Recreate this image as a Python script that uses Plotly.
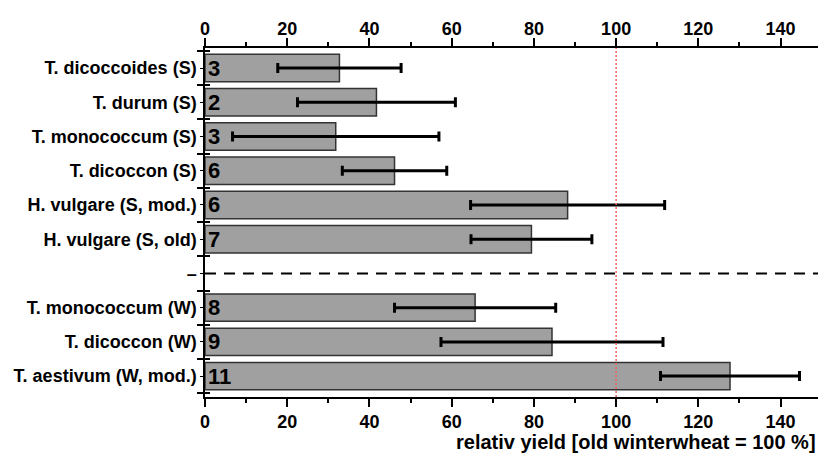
import plotly.graph_objects as go

categories = ["T. dicoccoides (S)", "T. durum (S)", "T. monococcum (S)", "T. dicoccon (S)",
              "H. vulgare (S, mod.)", "H. vulgare (S, old)", "–",
              "T. monococcum (W)", "T. dicoccon (W)", "T. aestivum (W, mod.)"]
values = [32.7, 41.7, 31.8, 46.1, 88.2, 79.4, None, 65.7, 84.4, 127.7]
errors = [15.0, 19.2, 25.1, 12.7, 23.6, 14.7, None, 19.6, 27.0, 16.9]
counts = ["3", "2", "3", "6", "6", "7", "", "8", "9", "11"]
separator_label = "–"
reference_value = 100
x_ticks = [0, 20, 40, 60, 80, 100, 120, 140]
x_title = "relativ yield [old winterwheat = 100 %]"

ypos = list(range(len(categories)))
boundaries = [p - 0.5 for p in ypos] + [ypos[-1] + 0.5]
sep_pos = ypos[categories.index(separator_label)]

FONT = "Liberation Sans, Arial, sans-serif"
XR = [0, 149.1]
YR = [9.61, -0.585]

fig = go.Figure()
fig.add_trace(go.Bar(
    x=values, y=ypos, orientation="h", width=0.8,
    marker=dict(color="#a0a0a0", line=dict(color="#333333", width=1.5)),
    error_x=dict(type="data", array=errors, color="black", thickness=3, width=5),
    text=counts, textposition="inside", insidetextanchor="start", constraintext="none",
    textangle=0,
    textfont=dict(family=FONT, size=22, color="black", weight="bold"),
    showlegend=False, hoverinfo="skip",
))
fig.add_trace(go.Scatter(x=[None], y=[None], xaxis="x2", yaxis="y2", showlegend=False))

tickfont = dict(family=FONT, size=18, color="black", weight="bold")
fig.update_layout(
    width=819, height=455,
    margin=dict(l=205, r=1, t=48, b=58, autoexpand=False),
    plot_bgcolor="white", paper_bgcolor="white",
    bargap=0.2,
    xaxis=dict(range=XR, tickmode="array", tickvals=x_ticks, ticks="outside", ticklen=8,
               tickwidth=1.5, tickcolor="black", showline=True, linecolor="black", linewidth=1.5,
               showgrid=False, zeroline=False, tickfont=tickfont, automargin=False,
               minor=dict(dtick=10, tick0=0, ticks="outside", ticklen=4, tickwidth=1.5, tickcolor="black")),
    xaxis2=dict(range=XR, overlaying="x", side="top", tickmode="array", tickvals=x_ticks,
                ticks="outside", ticklen=8, tickwidth=1.5, tickcolor="black", showline=True,
                linecolor="black", linewidth=1.5, showgrid=False, zeroline=False, tickfont=tickfont,
                automargin=False, ticklabelstandoff=-4,
                minor=dict(dtick=10, tick0=0, ticks="outside", ticklen=4, tickwidth=1.5, tickcolor="black")),
    yaxis=dict(range=YR, tickmode="array", tickvals=ypos, ticktext=categories, ticks="outside",
               ticklen=3, tickwidth=1, tickcolor="black", showline=True, linecolor="black",
               linewidth=1.5, showgrid=False, zeroline=False, tickfont=tickfont, automargin=False,
               minor=dict(tickvals=boundaries, ticks="outside", ticklen=6, tickwidth=1.5, tickcolor="black")),
    yaxis2=dict(range=YR, overlaying="y", side="left", tickmode="array", tickvals=boundaries,
                showticklabels=False, ticks="inside", ticklen=5, tickwidth=1.5, tickcolor="black",
                showline=False, showgrid=False, zeroline=False, automargin=False),
    shapes=[
        dict(type="line", xref="paper", x0=0, x1=1, yref="y", y0=sep_pos, y1=sep_pos,
             line=dict(color="black", width=2, dash="11px,8px"), layer="above"),
        dict(type="line", xref="x", x0=reference_value, x1=reference_value, yref="paper", y0=0, y1=1,
             line=dict(color="#f06262", width=1.5, dash="2px,2px"), layer="above"),
    ],
    annotations=[
        dict(text=x_title, xref="paper", yref="paper", x=1, y=0, xanchor="right", yanchor="top",
             yshift=-32, xshift=0, showarrow=False,
             font=dict(family=FONT, size=20, color="black", weight="bold")),
    ],
)

fig.write_html("out.html", config={"displayModeBar": False},
               post_script="document.body.style.margin='0px';document.body.style.overflow='hidden';")
